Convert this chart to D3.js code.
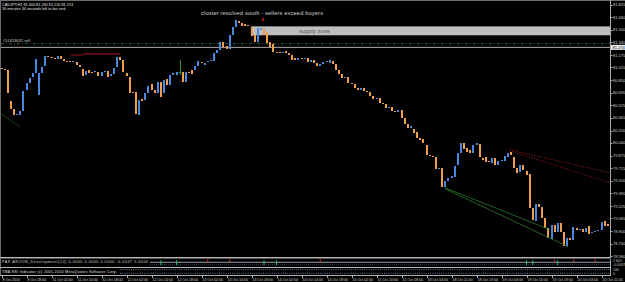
<!DOCTYPE html>
<html>
<head>
<meta charset="utf-8">
<script src="https://cdn.jsdelivr.net/npm/d3@7"></script>
<style>
html, body { margin: 0; padding: 0; background: #000; }
svg { display: block; font-family: "Liberation Sans", Arial, sans-serif; }
</style>
</head>
<body>
<svg id="chart" width="625" height="282"></svg>
<script>
// CADJPY H1, 8 Oct 2010 10:00 .. 20 Oct 2010, one entry per hourly bar
var opens = [
  81.009, 80.996, 80.983, 80.583, 80.480, 80.403, 80.403, 80.454, 80.725, 80.815,
  80.893, 80.944, 80.661, 80.944, 81.035, 81.164, 81.151, 81.138, 81.125, 81.164,
  81.125, 81.099, 81.099, 81.086, 81.086, 81.047, 80.996, 80.919, 80.983, 80.957,
  80.957, 80.957, 80.906, 80.957, 80.970, 80.906, 80.931, 81.022, 81.151, 81.112,
  80.944, 80.893, 80.699, 80.699, 80.403, 80.609, 80.596, 80.686, 80.802, 80.725,
  80.686, 80.828, 80.686, 80.867, 80.790, 80.919, 80.919, 80.957, 80.957, 80.828,
  80.957, 80.983, 80.983, 81.035, 81.086, 81.047, 81.086, 81.099, 81.099, 81.202,
  81.241, 81.344, 81.293, 81.254, 81.435, 81.538, 81.615, 81.589, 81.576, 81.564,
  81.538, 81.435, 81.344, 81.499, 81.525, 81.473, 81.344, 81.318, 81.215, 81.215,
  81.202, 81.228, 81.202, 81.177, 81.138, 81.112, 81.138, 81.125, 81.138, 81.086,
  81.112, 81.073, 81.035, 81.060, 81.086, 81.073, 81.099, 81.060, 80.983, 80.931,
  80.880, 80.893, 80.815, 80.802, 80.751, 80.725, 80.751, 80.712, 80.699, 80.648,
  80.609, 80.622, 80.557, 80.544, 80.493, 80.506, 80.454, 80.441, 80.467, 80.364,
  80.286, 80.235, 80.222, 80.183, 80.106, 80.093, 80.016, 79.886, 79.874, 79.861,
  79.706, 79.719, 79.474, 79.551, 79.590, 79.603, 79.758, 79.912, 80.041, 79.977,
  79.951, 79.912, 80.016, 80.028, 79.848, 79.861, 79.809, 79.783, 79.848, 79.758,
  79.809, 79.809, 79.861, 79.925, 79.861, 79.719, 79.667, 79.758, 79.680, 79.641,
  79.203, 79.035, 79.254, 79.216, 79.074, 78.945, 78.803, 78.984, 78.893, 79.009,
  78.893, 78.713, 78.816, 78.790, 78.945, 78.919, 78.932, 78.893, 78.971, 78.880,
  78.893, 78.906, 78.919, 79.035, 78.996
];
var closes = [
  80.996, 80.983, 80.686, 80.480, 80.403, 80.415, 80.454, 80.712, 80.815, 80.880,
  80.944, 81.125, 80.944, 81.022, 81.164, 81.151, 81.138, 81.125, 81.164, 81.125,
  81.099, 81.086, 81.086, 81.099, 81.047, 81.022, 80.906, 80.970, 80.944, 80.944,
  80.970, 80.906, 80.957, 80.970, 80.893, 80.931, 81.009, 81.151, 81.112, 80.957,
  80.906, 80.686, 80.686, 80.415, 80.596, 80.583, 80.686, 80.777, 80.725, 80.686,
  80.828, 80.635, 80.854, 80.790, 80.919, 80.944, 80.957, 80.957, 80.828, 80.957,
  80.944, 80.931, 81.035, 81.099, 81.073, 81.073, 81.099, 81.112, 81.202, 81.241,
  81.344, 81.280, 81.254, 81.435, 81.538, 81.628, 81.589, 81.551, 81.551, 81.551,
  81.422, 81.344, 81.525, 81.525, 81.435, 81.331, 81.280, 81.215, 81.202, 81.202,
  81.215, 81.202, 81.177, 81.112, 81.112, 81.138, 81.125, 81.138, 81.086, 81.112,
  81.073, 81.035, 81.060, 81.086, 81.099, 81.112, 81.060, 80.983, 80.931, 80.880,
  80.893, 80.815, 80.802, 80.751, 80.725, 80.751, 80.712, 80.699, 80.648, 80.609,
  80.622, 80.557, 80.544, 80.493, 80.506, 80.454, 80.441, 80.467, 80.364, 80.286,
  80.235, 80.261, 80.170, 80.106, 80.080, 80.041, 79.886, 79.874, 79.861, 79.706,
  79.719, 79.474, 79.551, 79.590, 79.616, 79.745, 79.912, 80.041, 79.964, 79.925,
  79.912, 80.016, 80.041, 79.861, 79.822, 79.796, 79.796, 79.848, 79.758, 79.809,
  79.822, 79.874, 79.912, 79.886, 79.719, 79.654, 79.758, 79.693, 79.629, 79.203,
  79.048, 79.254, 79.216, 79.074, 78.945, 78.816, 78.984, 78.893, 79.009, 78.893,
  78.713, 78.816, 78.790, 78.958, 78.919, 78.932, 78.893, 78.945, 78.867, 78.893,
  78.906, 78.919, 79.022, 78.971, 78.971
];
// doji bars that show a high-low line: [bar, high, low]
var dojiWicks = [[57, 81.112, 80.919]];

var priceTickLabels = ["81.825", "81.660", "81.500", "81.340", "81.175", "81.015", "80.850",
  "80.690", "80.525", "80.365", "80.200", "80.040", "79.875", "79.715", "79.550", "79.390",
  "79.225", "79.065", "78.900", "78.740", "78.580"];
var timeLabels = ["8 Oct 2010", "8 Oct 18:00", "11 Oct 02:00", "11 Oct 10:00", "11 Oct 18:00",
  "12 Oct 02:00", "12 Oct 10:00", "12 Oct 18:00", "13 Oct 02:00", "13 Oct 10:00", "13 Oct 18:00",
  "14 Oct 02:00", "14 Oct 10:00", "14 Oct 18:00", "15 Oct 02:00", "15 Oct 10:00", "15 Oct 18:00",
  "18 Oct 03:00", "18 Oct 11:00", "18 Oct 19:00", "19 Oct 03:00", "19 Oct 11:00", "19 Oct 19:00",
  "20 Oct 03:00", "20 Oct 11:00"];
var barsPerTimeLabel = 8;

// chart objects: [bar1, price1, bar2, price2]
var redTrends = [[162.7, 79.951, 194.7, 79.654], [162.7, 79.938, 194.7, 79.525]];
var greenTrends = [[141.9, 79.461, 175.5, 78.919], [141.9, 79.448, 181.3, 78.700]];
var leftGreenTrend = [[-0.5, 80.428, 5.9, 80.248]];
var resistanceLines = [[22.2, 81.175, 26.2, 81.175], [26.2, 81.190, 38.0, 81.190]];
var supplyZone = {fromBar: 79.8, top: 81.545, bottom: 81.430, label: "supply zone"};
var bidPrice = 81.274, orderPrice = 81.322, orderLabel = "#51413632 sell";
var sellArrow = {bar: 84, price: 81.628};
var headerLines = ["CADJPY,H1  81.300 81.290 81.220 81.274", "16 minutes 34 seconds left to bar end"];
var chartNote = "cluster resolved south - sellers exceed buyers";

// indicator window markers (bar indices)
var aroonUpBars = [51, 56, 84, 88, 168, 170, 178];
var aroonDownBars = [66, 73, 102, 177, 183, 190];

var svg = d3.select("#chart");
var plotRight = 610, mainBottom = 257;
var blue = "#4a88e0", orange = "#f0a04c", dojiColor = "#2f9a2f";

var x = d3.scaleLinear().domain([0, 192]).range([1.5, 601.5]);
var y = d3.scaleLinear().domain([78.580, 81.825]).range([256, 4.7]);

svg.append("rect").attr("width", 625).attr("height", 282).attr("fill", "#000");

svg.append("clipPath").attr("id", "mainClip")
  .append("rect").attr("x", 1).attr("y", 1).attr("width", plotRight - 1).attr("height", mainBottom - 1);
var plot = svg.append("g").attr("clip-path", "url(#mainClip)");

// supply zone rectangle sits behind the bars
plot.append("rect")
  .attr("x", x(supplyZone.fromBar)).attr("y", y(supplyZone.top))
  .attr("width", plotRight - x(supplyZone.fromBar))
  .attr("height", y(supplyZone.bottom) - y(supplyZone.top))
  .attr("fill", "#bebebe");
plot.append("text").attr("x", 299).attr("y", y((supplyZone.top + supplyZone.bottom) / 2) + 2)
  .attr("font-size", 5.7).attr("fill", "#555").attr("textLength", 31)
  .text(supplyZone.label);

// order line and bid line
plot.append("line").attr("x1", 1).attr("x2", plotRight).attr("y1", y(orderPrice)).attr("y2", y(orderPrice))
  .attr("stroke", "#3d7d3d").attr("stroke-width", 0.8).attr("stroke-dasharray", "3,2,1,2");
plot.append("text").attr("x", 3).attr("y", y(orderPrice) - 2).attr("font-size", 4)
  .attr("fill", "#cfcfcf").text(orderLabel);
plot.append("line").attr("x1", 1).attr("x2", plotRight).attr("y1", y(bidPrice)).attr("y2", y(bidPrice))
  .attr("stroke", "#bdbdbd").attr("stroke-width", 0.9);

// candles
var bars = d3.range(opens.length).map(function(i) { return {i: i, o: opens[i], c: closes[i]}; });
plot.selectAll("rect.candle").data(bars).enter().append("rect")
  .attr("class", "candle")
  .attr("x", function(d) { return Math.round(x(d.i)) - 1; })
  .attr("width", 2)
  .attr("y", function(d) { return Math.round(Math.min(y(d.o), y(d.c))); })
  .attr("height", function(d) { return Math.max(1, Math.round(Math.abs(y(d.o) - y(d.c)))); })
  .attr("fill", function(d) { return d.c > d.o ? blue : (d.c < d.o ? orange : dojiColor); })
  .attr("shape-rendering", "crispEdges");
plot.selectAll("line.wick").data(dojiWicks).enter().append("line")
  .attr("x1", function(d) { return Math.round(x(d[0])) + 0.5; })
  .attr("x2", function(d) { return Math.round(x(d[0])) + 0.5; })
  .attr("y1", function(d) { return y(d[1]); })
  .attr("y2", function(d) { return y(d[2]); })
  .attr("stroke", dojiColor).attr("stroke-width", 1);

// trend lines
function drawSegments(data, color, dash, width) {
  plot.append("g").selectAll("line").data(data).enter().append("line")
    .attr("x1", function(d) { return x(d[0]); }).attr("y1", function(d) { return y(d[1]); })
    .attr("x2", function(d) { return x(d[2]); }).attr("y2", function(d) { return y(d[3]); })
    .attr("stroke", color).attr("stroke-width", width)
    .attr("stroke-dasharray", dash);
}
drawSegments(redTrends, "#b02020", "1,1.5", 0.9);
drawSegments(greenTrends, "#2e7a2e", null, 0.8);
drawSegments(leftGreenTrend, "#2e7a2e", "1.5,1", 0.9);
drawSegments(resistanceLines, "#8e1616", null, 1.1);

// sell arrow
var ax = x(sellArrow.bar) - 1, ay = y(sellArrow.price);
plot.append("path")
  .attr("d", "M" + (ax - 0.8) + "," + (ay - 2.5) + "h1.6v1.8h1.2l-2,2.2l-2,-2.2h1.2z")
  .attr("fill", "#b01818");

// texts
plot.selectAll("text.hdr").data(headerLines).enter().append("text")
  .attr("class", "hdr").attr("x", 2).attr("y", function(d, i) { return 5.5 + i * 4.2; })
  .attr("font-size", 3.8).attr("fill", "#e0e0e0").text(function(d) { return d; });
plot.append("text").attr("x", 201).attr("y", 15).attr("font-size", 5.7)
  .attr("fill", "#d2d2d2").attr("textLength", 122).text(chartNote);

// frame and separators
var frame = svg.append("g").attr("fill", "none").attr("stroke-width", 1);
frame.append("line").attr("x1", 0).attr("x2", 625).attr("y1", 0.5).attr("y2", 0.5).attr("stroke", "#6e6e6e");
frame.append("line").attr("x1", 0.5).attr("x2", 0.5).attr("y1", 0).attr("y2", 276).attr("stroke", "#6e6e6e");
frame.append("line").attr("x1", plotRight + 0.5).attr("x2", plotRight + 0.5).attr("y1", 0).attr("y2", 276).attr("stroke", "#a8a8a8");
[257.5, 258.5, 267.5, 275.5].forEach(function(v, k) {
  frame.append("line").attr("x1", 0).attr("x2", plotRight + 1).attr("y1", v).attr("y2", v)
    .attr("stroke", k == 1 ? "#555" : "#b4b4b4");
});

// price axis
var axisG = svg.append("g");
axisG.selectAll("line").data(priceTickLabels).enter().append("line")
  .attr("x1", plotRight).attr("x2", plotRight + 2.5)
  .attr("y1", function(d) { return Math.round(y(+d)) + 0.5; })
  .attr("y2", function(d) { return Math.round(y(+d)) + 0.5; })
  .attr("stroke", "#a8a8a8");
axisG.selectAll("text").data(priceTickLabels).enter().append("text")
  .attr("x", plotRight + 3).attr("y", function(d) { return y(+d) + 1.5; })
  .attr("font-size", 4).attr("fill", "#cfcfcf").text(function(d) { return d; });
axisG.append("rect").attr("x", plotRight + 1).attr("y", y(bidPrice) - 2.5).attr("width", 14).attr("height", 5)
  .attr("fill", "#f0f0f0");
axisG.append("text").attr("x", plotRight + 2.5).attr("y", y(bidPrice) + 1.5).attr("font-size", 4)
  .attr("fill", "#000").text(bidPrice.toFixed(3));

// indicator window 1
var w1 = d3.scaleLinear().domain([0, 100]).range([266.5, 259.5]);
var ind1 = svg.append("g");
ind1.append("line").attr("x1", 150).attr("x2", plotRight).attr("y1", w1(60)).attr("y2", w1(60))
  .attr("stroke", "#b8c8e0").attr("stroke-width", 0.8);
ind1.append("line").attr("x1", 150).attr("x2", plotRight).attr("y1", w1(25)).attr("y2", w1(25))
  .attr("stroke", "#35507a").attr("stroke-width", 0.8).attr("stroke-dasharray", "1,1");
ind1.selectAll("line.up").data(aroonUpBars).enter().append("line").attr("class", "up")
  .attr("x1", function(d) { return x(d); }).attr("x2", function(d) { return x(d); })
  .attr("y1", w1(90)).attr("y2", w1(20)).attr("stroke", "#20c070").attr("stroke-width", 1);
ind1.selectAll("line.dn").data(aroonDownBars).enter().append("line").attr("class", "dn")
  .attr("x1", function(d) { return x(d); }).attr("x2", function(d) { return x(d); })
  .attr("y1", w1(100)).attr("y2", w1(55)).attr("stroke", "#e03030").attr("stroke-width", 1);
ind1.append("text").attr("x", 2).attr("y", 262.5).attr("font-size", 3.6).attr("fill", "#d8d8d8")
  .attr("textLength", 146).text("PAR AROON_Development(14) 0.0000 0.0000 0.0000 -0.0037 0.0000");
ind1.append("text").attr("x", plotRight + 3).attr("y", 262).attr("font-size", 3.6).attr("fill", "#cfcfcf").text("1.607");
ind1.append("text").attr("x", plotRight + 3).attr("y", 266.3).attr("font-size", 3.6).attr("fill", "#cfcfcf").text("-0.0037");

// indicator window 2
var w2 = d3.scaleLinear().domain([0, 100]).range([274.5, 268.5]);
var ind2 = svg.append("g");
[80, 20].forEach(function(lv) {
  ind2.append("line").attr("x1", 120).attr("x2", plotRight).attr("y1", w2(lv)).attr("y2", w2(lv))
    .attr("stroke", "#7f9fc8").attr("stroke-width", 0.8).attr("stroke-dasharray", "1,1.2");
});
ind2.append("text").attr("x", 2).attr("y", 273).attr("font-size", 3.6).attr("fill", "#e0e0e0")
  .attr("textLength", 115).text("TMA SSI Indicator (c) 2001-2010 MetaQuotes Software Corp.");
ind2.append("text").attr("x", plotRight + 3).attr("y", 271).attr("font-size", 3.4).attr("fill", "#cfcfcf").text("100");
ind2.append("text").attr("x", plotRight + 3).attr("y", 275).attr("font-size", 3.4).attr("fill", "#cfcfcf").text("0");

// time axis
var timeG = svg.append("g");
timeG.selectAll("line").data(timeLabels).enter().append("line")
  .attr("x1", function(d, k) { return Math.round(x(k * barsPerTimeLabel)) + 0.5; })
  .attr("x2", function(d, k) { return Math.round(x(k * barsPerTimeLabel)) + 0.5; })
  .attr("y1", 276).attr("y2", 278).attr("stroke", "#a8a8a8");
timeG.selectAll("text").data(timeLabels).enter().append("text")
  .attr("x", function(d, k) { return x(k * barsPerTimeLabel) + 1; })
  .attr("y", 281).attr("font-size", 3.6).attr("fill", "#d0d0d0")
  .text(function(d) { return d; });
</script>
</body>
</html>
